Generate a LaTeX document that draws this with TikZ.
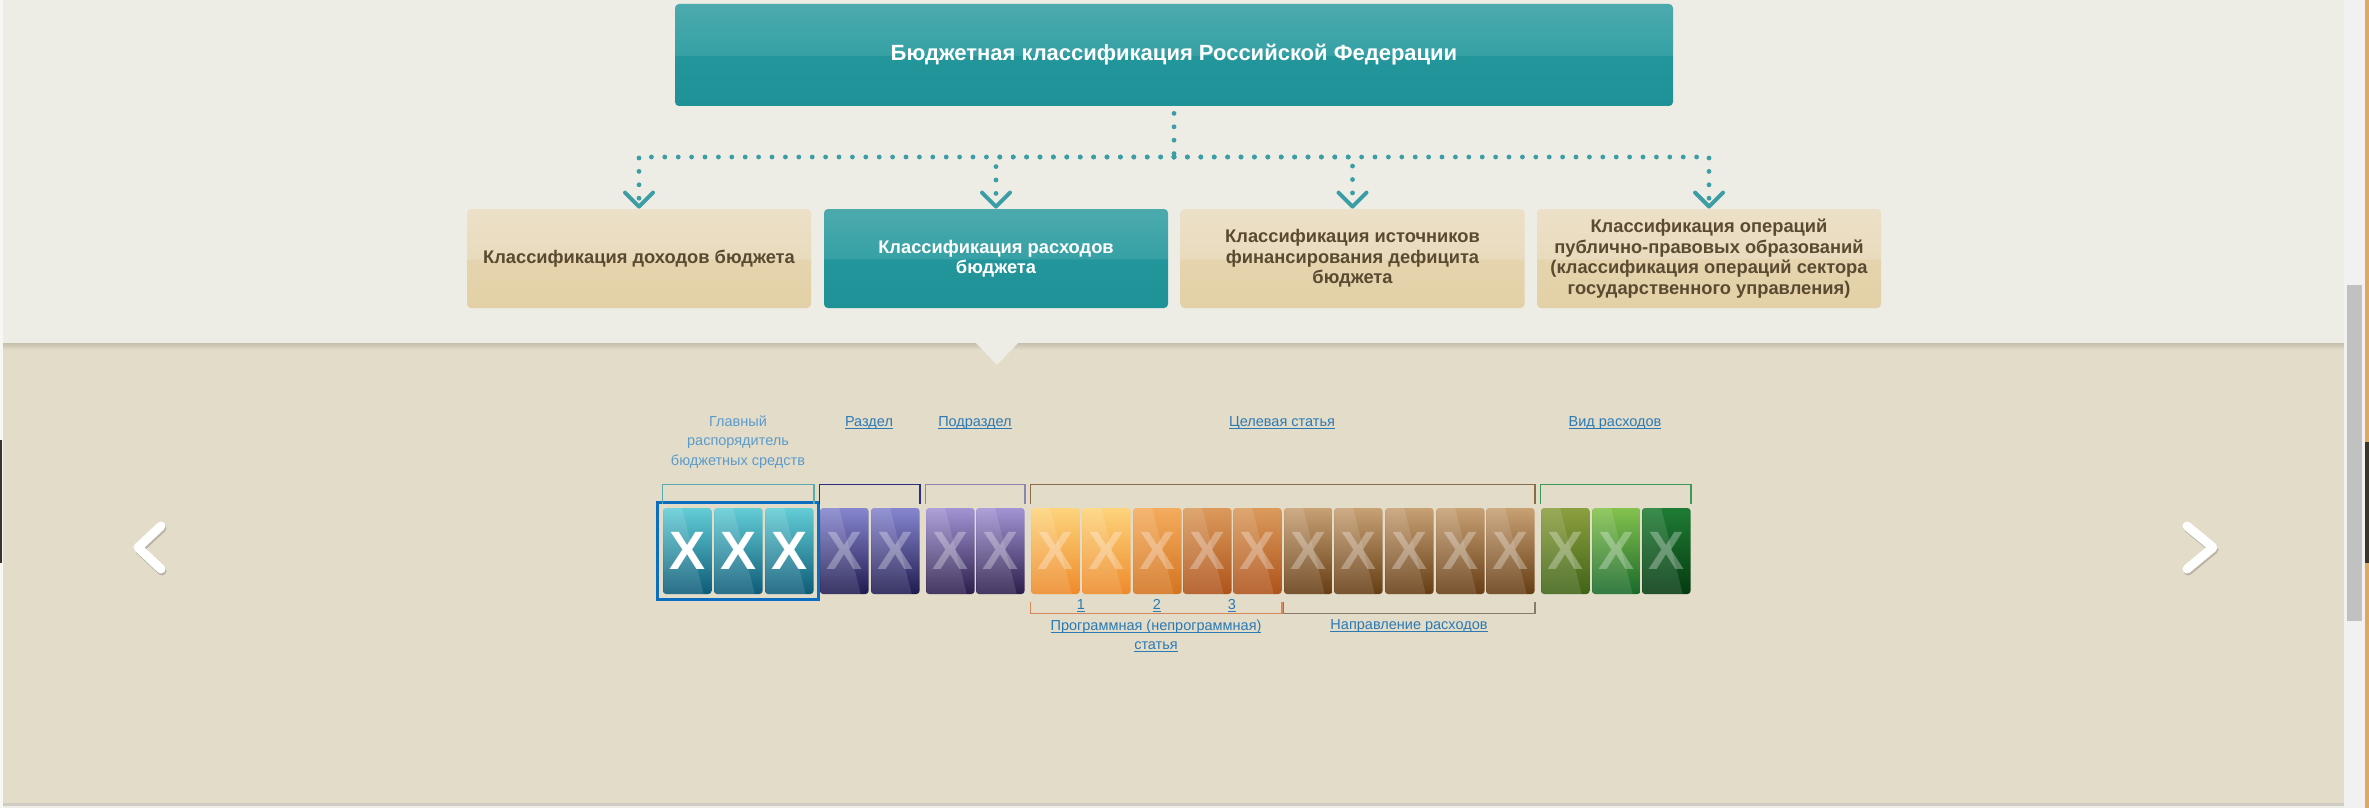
\documentclass[tikz,border=0pt]{standalone}
\usepackage{fontspec}
\setmainfont{Liberation Sans}
\usetikzlibrary{arrows.meta}
\definecolor{bgtop}{HTML}{EDECE5}
\definecolor{bgbot}{HTML}{E2DCC9}
\definecolor{bgshadow}{HTML}{C5BFAC}
\definecolor{linegrey}{HTML}{CDCBC2}
\definecolor{trackc}{HTML}{F1F1F1}
\definecolor{thumbc}{HTML}{C1C1C1}
\definecolor{stripc}{HTML}{DDA864}
\definecolor{darkbar}{HTML}{3B342B}
\definecolor{edgec}{HTML}{F7F7F4}
\definecolor{tlA}{HTML}{4CAAAD}
\definecolor{tlB}{HTML}{36A1A5}
\definecolor{tlC}{HTML}{23969B}
\definecolor{tlD}{HTML}{1F9297}
\definecolor{bgA}{HTML}{ECE0C8}
\definecolor{bgB}{HTML}{E9DBBD}
\definecolor{bgC}{HTML}{E5D4AE}
\definecolor{bgD}{HTML}{E3D0A6}
\definecolor{btext}{HTML}{5A4A31}
\definecolor{dotc}{HTML}{3C9EA5}
\definecolor{linkc}{HTML}{2C7AB4}
\definecolor{lightlink}{HTML}{5B9BCB}
\definecolor{selc}{HTML}{0B6EC0}
\definecolor{g1t}{HTML}{63CDD6}\definecolor{g1b}{HTML}{0D5B78}
\definecolor{g2t}{HTML}{8686D0}\definecolor{g2b}{HTML}{1F1B4F}
\definecolor{g3t}{HTML}{A294D4}\definecolor{g3b}{HTML}{2C1D4B}
\definecolor{oAt}{HTML}{FDD47C}\definecolor{oAb}{HTML}{EE8A2A}
\definecolor{oBt}{HTML}{F4AC5E}\definecolor{oBb}{HTML}{D3741F}
\definecolor{oCt}{HTML}{DB9A5C}\definecolor{oCb}{HTML}{AE531A}
\definecolor{brt}{HTML}{C7A074}\definecolor{brb}{HTML}{663D14}
\definecolor{gAt}{HTML}{8C9F40}\definecolor{gAb}{HTML}{3F6415}
\definecolor{gBt}{HTML}{84C24E}\definecolor{gBb}{HTML}{19692A}
\definecolor{gCt}{HTML}{1F7C34}\definecolor{gCb}{HTML}{053A10}
\definecolor{brA}{HTML}{5BAAB0}
\definecolor{brB}{HTML}{2C2F80}
\definecolor{brC}{HTML}{8F86B0}
\definecolor{brD}{HTML}{8A6B4A}
\definecolor{brE}{HTML}{3C9A58}
\definecolor{brF}{HTML}{D7875A}
\definecolor{brG}{HTML}{8A7A68}
\pgfdeclareverticalshading{tealgloss}{100bp}{color(0bp)=(tlD); color(25bp)=(tlD); color(49.5bp)=(tlC); color(50bp)=(tlB); color(75bp)=(tlA); color(100bp)=(tlA)}
\pgfdeclareverticalshading{beigegloss}{100bp}{color(0bp)=(bgD); color(25bp)=(bgD); color(49.5bp)=(bgC); color(50bp)=(bgB); color(75bp)=(bgA); color(100bp)=(bgA)}
\newsavebox{\lnkbox}
\newcommand{\lnk}[1]{\sbox{\lnkbox}{#1}\rlap{\rule[-1.1pt]{\wd\lnkbox}{0.5pt}}\usebox{\lnkbox}}
\tikzset{
  headbox/.style={shading=tealgloss, rounded corners=2pt, minimum width=499pt, minimum height=51pt, inner sep=0pt, text=white, font=\bfseries\fontsize{11}{13}\selectfont},
  catbox/.style={shading=beigegloss, rounded corners=2pt, minimum width=172pt, minimum height=49.5pt, inner sep=0pt, align=center, text=btext, font=\bfseries\fontsize{9.15}{10.3}\selectfont},
  catsel/.style={catbox, shading=tealgloss, text=white},
  dotline/.style={draw=dotc, line width=2.4pt, line cap=round, dash pattern=on 0pt off 6.7pt},
  chev/.style={-{Straight Barb[length=7pt,width=14pt,line width=2pt,round]}},
  tile/.style={minimum width=24.25pt, minimum height=43pt, inner sep=0pt, rounded corners=1.5pt, text=white, font=\bfseries\fontsize{27}{27}\selectfont},
  lbl/.style={text=linkc, font=\fontsize{7.25}{9.75}\selectfont, inner sep=0pt, align=center},
  brk/.style={line width=0.75pt},
  nav/.style={line width=4.5pt, line cap=round, line join=round},
}
\begin{document}
\begin{tikzpicture}[x=0.5pt,y=-0.5pt]
\useasboundingbox (0,0) rectangle (2369,808);
% backgrounds
\fill[bgtop] (0,0) rectangle (2369,808);
\fill[bgbot] (0,343) rectangle (2344,804);
\shade[top color=bgshadow, bottom color=bgbot] (0,343) rectangle (2344,350);
\fill[bgtop] (975,342) -- (1019,342) -- (997,365) -- cycle;
\fill[linegrey] (0,803) rectangle (2344,805.5);
% page edges and scrollbar
\fill[edgec] (0,0) rectangle (3,808);
\fill[darkbar] (0,440) rectangle (2,563);
\fill[trackc] (2344,0) rectangle (2365,808);
\fill[thumbc] (2347,285) rectangle (2362,621);
\fill[stripc] (2365,0) rectangle (2369,808);
\fill[darkbar] (2365,442) rectangle (2369,563);
% top boxes
\node[headbox] (top) at (1174,55) {Бюджетная классификация Российской Федерации};
\node[catbox] (b1) at (639,258.5) {Классификация доходов бюджета};
\node[catsel] (b2) at (996,258.5) {Классификация расходов\\бюджета};
\node[catbox] (b3) at (1352.5,258.5) {Классификация источников\\финансирования дефицита\\бюджета};
\node[catbox] (b4) at (1709,258.5) {Классификация операций\\публично-правовых образований\\(классификация операций сектора\\государственного управления)};
% dotted connectors
\coordinate (hub) at (1174,157);
\draw[dotline, shorten <=3.5pt] (top.south) -- (hub);
\foreach \b in {b1,b2,b3,b4} \draw[dotline, chev] (hub) -| (\b.north);
% tiles
\foreach \i/\xx/\ct/\cb/\op in {1/663/g1t/g1b/1, 2/714/g1t/g1b/1, 3/765/g1t/g1b/1,
  4/820/g2t/g2b/0.3, 5/871/g2t/g2b/0.3, 6/926/g3t/g3b/0.3, 7/976/g3t/g3b/0.3,
  8/1031/oAt/oAb/0.3, 9/1082/oAt/oAb/0.3, 10/1133/oBt/oBb/0.3, 11/1183/oCt/oCb/0.3, 12/1233/oCt/oCb/0.3,
  13/1284/brt/brb/0.3, 14/1334/brt/brb/0.3, 15/1385/brt/brb/0.3, 16/1436/brt/brb/0.3, 17/1486/brt/brb/0.3,
  18/1541/gAt/gAb/0.3, 19/1592/gBt/gBb/0.3, 20/1642/gCt/gCb/0.3} {
  \node[tile, top color=\ct, bottom color=\cb, text opacity=\op] (t\i) at (\xx+24.25,551) {X};
  \fill[white, opacity=0.12] ([xshift=0.4pt]t\i.north west) -- ([xshift=9.7pt]t\i.north west) -- ([xshift=20.6pt]t\i.south west) -- ([xshift=0.4pt]t\i.south west) -- cycle;
}
% selection frame
\draw[selc, line width=1.5pt] ([xshift=-2.5pt,yshift=2.5pt]t1.north west) rectangle ([xshift=2.5pt,yshift=-2.5pt]t3.south east);
% upper brackets
\draw[brk, brA] ([yshift=2pt]t1.north west) -- ([yshift=11.5pt]t1.north west) -- ([yshift=11.5pt]t3.north east) -- ([yshift=2pt]t3.north east);
\draw[brk, brB] ([yshift=2pt]t4.north west) -- ([yshift=11.5pt]t4.north west) -- ([yshift=11.5pt]t5.north east) -- ([yshift=2pt]t5.north east);
\draw[brk, brC] ([yshift=2pt]t6.north west) -- ([yshift=11.5pt]t6.north west) -- ([yshift=11.5pt]t7.north east) -- ([yshift=2pt]t7.north east);
\draw[brk, brD] ([yshift=2pt]t8.north west) -- ([yshift=11.5pt]t8.north west) -- ([yshift=11.5pt]t17.north east) -- ([yshift=2pt]t17.north east);
\draw[brk, brE] ([yshift=2pt]t18.north west) -- ([yshift=11.5pt]t18.north west) -- ([yshift=11.5pt]t20.north east) -- ([yshift=2pt]t20.north east);
% lower brackets
\draw[brk, brF] ([yshift=-4pt]t8.south west) -- ([yshift=-9.5pt]t8.south west) -- ([yshift=-9.5pt]t12.south east) -- ([yshift=-4pt]t12.south east);
\draw[brk, brG] ([yshift=-4pt]t13.south west) -- ([yshift=-9.5pt]t13.south west) -- ([yshift=-9.5pt]t17.south east) -- ([yshift=-4pt]t17.south east);
% labels
\node[lbl, text=lightlink] (lg) at (738,442) {Главный\\распорядитель\\бюджетных средств};
\node[lbl] (l2) at (869,423) {\lnk{Раздел}};
\node[lbl] (l3) at (975,423) {\lnk{Подраздел}};
\node[lbl] (l4) at (1282,423) {\lnk{Целевая статья}};
\node[lbl] (l5) at (1615,423) {\lnk{Вид расходов}};
\node[lbl] (n1) at (1081,606) {\lnk{1}};
\node[lbl] (n2) at (1157,606) {\lnk{2}};
\node[lbl] (n3) at (1232,606) {\lnk{3}};
\node[lbl] (lp) at (1156,636) {\lnk{Программная (непрограммная)}\\\lnk{статья}};
\node[lbl] (ln) at (1409,626) {\lnk{Направление расходов}};
% navigation chevrons
\draw[nav, black, opacity=0.18] (162,528) -- (139,549.5) -- (162,571);
\draw[nav, white] (161,526) -- (138,547.5) -- (161,569);
\draw[nav, black, opacity=0.18] (2188,528) -- (2214,549.5) -- (2188,571);
\draw[nav, white] (2187,526) -- (2213,547.5) -- (2187,569);
\end{tikzpicture}
\end{document}
